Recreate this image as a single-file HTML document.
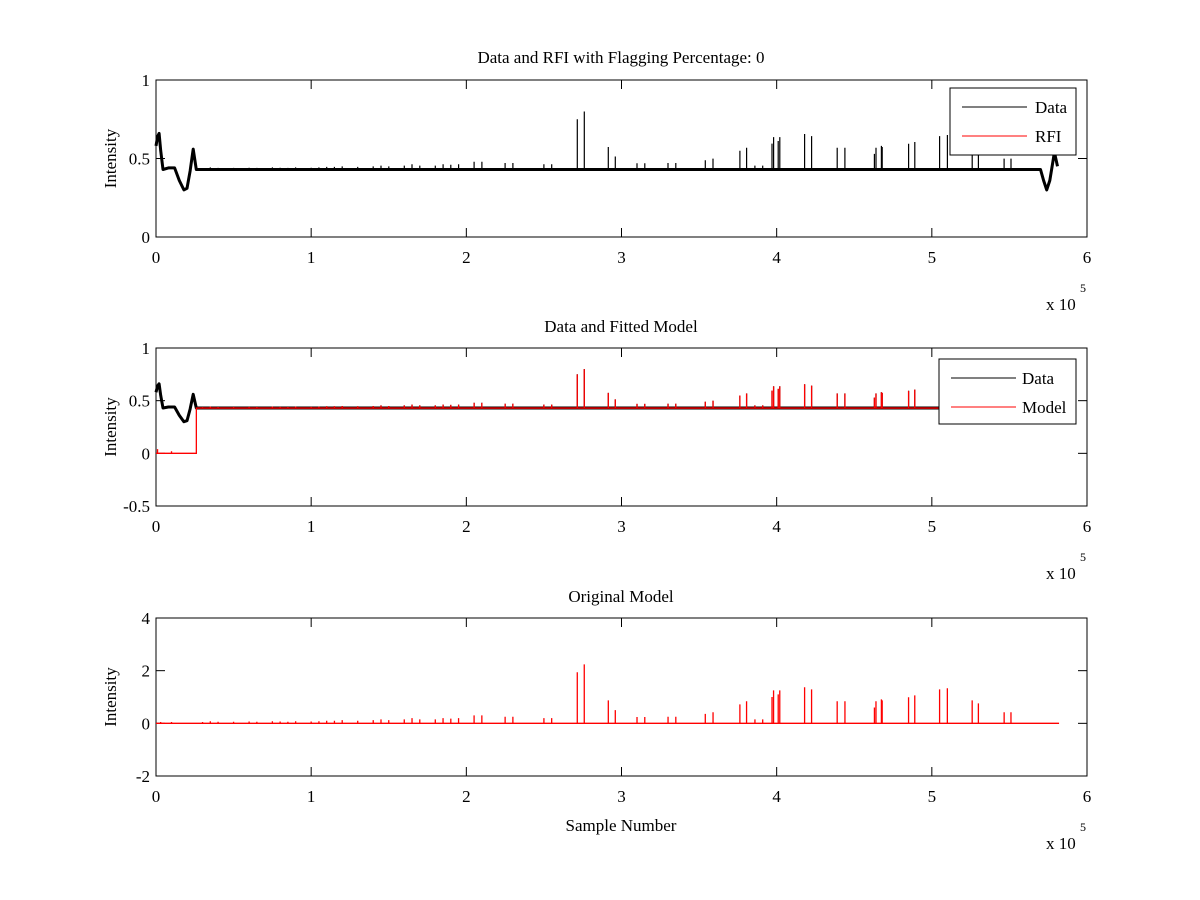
<!DOCTYPE html>
<html><head><meta charset="utf-8"><style>
body{margin:0;background:#fff}
svg{display:block;font-family:"Liberation Serif","DejaVu Serif",serif}
</style></head><body>
<svg id="fig" width="1200" height="900" viewBox="0 0 1200 900" xmlns="http://www.w3.org/2000/svg">
<rect width="1200" height="900" fill="#fff"/>
</svg>
<script>
// ---- data (sample number in units of 1e5) ----
const spikePos = [0.03,0.1,0.3,0.35,0.4,0.5,0.6,0.65,0.75,0.8,0.85,0.9,1.0,1.05,1.1,1.15,1.2,1.3,1.4,1.45,1.5,1.6,1.65,1.7,1.8,1.85,1.9,1.95,2.05,2.1,2.25,2.3,2.5,2.55,
 2.715,2.76,2.915,2.96,3.1,3.15,3.3,3.35,3.54,3.59,3.763,3.806,3.86,3.91,3.97,3.98,4.01,4.02,4.18,4.225,4.39,4.44,4.63,4.64,4.675,4.68,4.85,4.89,5.05,5.10,5.26,5.30,5.466,5.51];
const spikeModel = [0.05,0.05,0.05,0.08,0.06,0.06,0.07,0.06,0.08,0.07,0.06,0.08,0.07,0.08,0.1,0.1,0.12,0.1,0.12,0.15,0.12,0.15,0.2,0.15,0.15,0.2,0.18,0.2,0.3,0.3,0.25,0.25,0.2,0.2,
 1.94,2.24,0.87,0.5,0.24,0.24,0.25,0.25,0.36,0.42,0.72,0.84,0.15,0.15,1.0,1.25,1.1,1.25,1.37,1.29,0.84,0.84,0.6,0.84,0.91,0.87,0.99,1.06,1.29,1.33,0.87,0.76,0.42,0.42];
const dataStartX = [0,0.01,0.02,0.03,0.045,0.08,0.12,0.15,0.18,0.2,0.22,0.24,0.26];
const dataStartY = [0.58,0.64,0.66,0.55,0.43,0.44,0.44,0.36,0.30,0.31,0.42,0.56,0.43];
const dataEndX = [5.70,5.72,5.74,5.76,5.78,5.79,5.81];
const dataEndY = [0.43,0.36,0.30,0.36,0.48,0.54,0.45];
const baseLevel = 0.43;
const spikeScale = 0.165;
const modelStepX = 0.26;
const modelEndX = 5.82;
const earlyModelX = [0.01,0.1];
const earlyModelY = [0.04,0.02];

const NS="http://www.w3.org/2000/svg";
const svg=document.getElementById('fig');
function mk(tag,attrs,parent){const e=document.createElementNS(NS,tag);for(const k in attrs)e.setAttribute(k,attrs[k]);(parent||svg).appendChild(e);return e;}
const X0=156,X1=1087;
function sx(v){return X0+(v/6)*(X1-X0);}
function makeY(top,bot,ymin,ymax){return v=>bot-(v-ymin)/(ymax-ymin)*(bot-top);}

function axes(name,top,bot,ymin,ymax,yticks,title,titleY){
  const g=mk('g',{});
  
  
  const sy=makeY(top,bot,ymin,ymax);
  const fr=mk('rect',{x:X0,y:top,width:X1-X0,height:bot-top,fill:'none',stroke:'#000','stroke-width':1},g);
  
  
  for(let i=0;i<=6;i++){const x=sx(i);
    mk('line',{x1:x,x2:x,y1:bot,y2:bot-9,stroke:'#000'},g);
    mk('line',{x1:x,x2:x,y1:top,y2:top+9,stroke:'#000'},g);
    const t=mk('text',{x:x,y:bot+26,'text-anchor':'middle','font-size':17},g);t.textContent=i;
    
    
  }
  yticks.forEach(v=>{const y=sy(v);
    mk('line',{x1:X0,x2:X0+9,y1:y,y2:y,stroke:'#000'},g);
    mk('line',{x1:X1,x2:X1-9,y1:y,y2:y,stroke:'#000'},g);
    const t=mk('text',{x:X0-6,y:y+6,'text-anchor':'end','font-size':17},g);t.textContent=v;
    
    
  });
  const tt=mk('text',{x:621,y:titleY,'text-anchor':'middle','font-size':17},g);tt.textContent=title;
  
  
  const cy=(top+bot)/2;
  const yl=mk('text',{x:0,y:0,'text-anchor':'middle','font-size':17,transform:`translate(${X0-40},${cy}) rotate(-90)`},g);yl.textContent='Intensity';
  
  
  const e=mk('text',{x:1046,y:bot+73,'font-size':17},g);e.textContent='x 10';
  
  
  const e5=mk('text',{x:1080,y:bot+55,'font-size':12},g);e5.textContent='5';
  return {g,sy};
}

function basePath(sy){
  let pts=[];
  dataStartX.forEach((x,i)=>pts.push([x,dataStartY[i]]));
  dataEndX.forEach((x,i)=>pts.push([x,dataEndY[i]]));
  return 'M'+pts.map(p=>sx(p[0]).toFixed(1)+','+sy(p[1]).toFixed(1)).join('L');
}
function spikePath(sy){
  let d='';
  spikePos.forEach((p,i)=>{ if(p>dataStartX[dataStartX.length-1]&&p<dataEndX[0]){
    const h=baseLevel+spikeScale*spikeModel[i];
    d+=`M${sx(p).toFixed(1)},${sy(baseLevel)}L${sx(p).toFixed(1)},${sy(h).toFixed(1)}`;}});
  return d;
}
function drawData(a){
  const p=mk('path',{d:basePath(a.sy),fill:'none',stroke:'#000','stroke-width':3,'stroke-linejoin':'round'},a.g);
  
  
  const s=mk('path',{d:spikePath(a.sy),fill:'none',stroke:'#000','stroke-width':1.2},a.g);
  
  
}
function legend(parent,x,y,w,h,labels,tx){
  const g=mk('g',{},parent);
  
  
  mk('rect',{x,y,width:w,height:h,fill:'#fff',stroke:'#000'},g);
  labels.forEach((l,i)=>{const ly=y+19+i*29;
    const ln=mk('line',{x1:x+12,x2:x+77,y1:ly,y2:ly,stroke:l[1],'stroke-width':1},g);
    
    
    const t=mk('text',{x:tx,y:ly+6,'font-size':17},g);t.textContent=l[0];
    
    
  });
}

// Plot 1
const a1=axes('data-rfi-plot',80,237,0,1,[0,0.5,1],'Data and RFI with Flagging Percentage: 0',63);
drawData(a1);
legend(a1.g,950,88,126,67,[['Data','#000'],['RFI','#f00']],1035);

// Plot 2
const a2=axes('fitted-model-plot',348,506,-0.5,1,[-0.5,0,0.5,1],'Data and Fitted Model',332);
drawData(a2);
(function(){const sy=a2.sy;let d=`M${sx(0)},${sy(0)}`;
  earlyModelX.forEach((x,i)=>{d+=`L${sx(x)},${sy(0)}L${sx(x)},${sy(earlyModelY[i])}L${sx(x)},${sy(0)}`;});
  d+=`L${sx(modelStepX)},${sy(0)}L${sx(modelStepX)},${sy(baseLevel)}`;
  spikePos.forEach((p,i)=>{if(p>modelStepX){const h=baseLevel+spikeScale*spikeModel[i];
    d+=`L${sx(p)},${sy(baseLevel)}L${sx(p)},${sy(h)}L${sx(p)},${sy(baseLevel)}`;}});
  d+=`L${sx(modelEndX)},${sy(baseLevel)}`;
  const r=mk('path',{d,fill:'none',stroke:'#f00','stroke-width':1.3},a2.g);
  
  
})();
legend(a2.g,939,359,137,65,[['Data','#000'],['Model','#f00']],1022);

// Plot 3
const a3=axes('original-model-plot',618,776,-2,4,[-2,0,2,4],'Original Model',602);
(function(){const sy=a3.sy;let d=`M${sx(0)},${sy(0)}`;
  spikePos.forEach((p,i)=>{d+=`L${sx(p)},${sy(0)}L${sx(p)},${sy(spikeModel[i])}L${sx(p)},${sy(0)}`;});
  d+=`L${sx(modelEndX)},${sy(0)}`;
  const r=mk('path',{d,fill:'none',stroke:'#f00','stroke-width':1.3},a3.g);
  
  
})();
const xl=mk('text',{x:621,y:831,'text-anchor':'middle','font-size':17});xl.textContent='Sample Number';


</script>
</body></html>
